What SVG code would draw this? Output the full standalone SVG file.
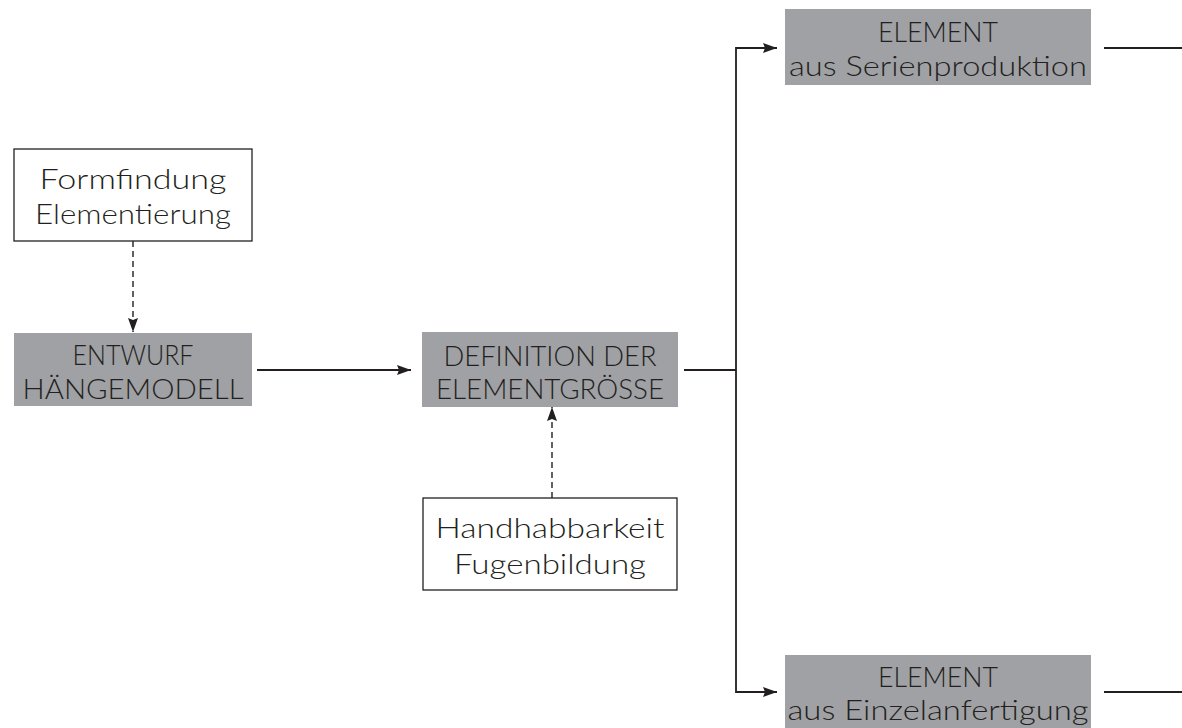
<svg xmlns="http://www.w3.org/2000/svg" width="1182" height="728" viewBox="0 0 1182 728">
  <defs>
    <marker id="arrow" viewBox="0 0 14 10" refX="14" refY="5" markerWidth="14" markerHeight="10" markerUnits="userSpaceOnUse" orient="auto">
      <path d="M0,0 L14,5 L0,10 L2,5 Z" fill="#231f20"/>
    </marker>
    <style>
      .box-grey { fill: #a0a1a4; stroke: none; }
      .box-white { fill: #ffffff; stroke: #231f20; stroke-width: 1.3; }
      .label { font-family: "Lato", "Liberation Sans", "DejaVu Sans", sans-serif; font-weight: 300; font-size: 28px; fill: #231f20; text-anchor: middle; }
      .line { fill: none; stroke: #231f20; stroke-width: 1.8; }
      .dashed { fill: none; stroke: #231f20; stroke-width: 1.4; stroke-dasharray: 6 4; }
    </style>
  </defs>
  <rect width="1182" height="728" fill="#ffffff"/>

  <!-- connectors -->
  <g id="connectors">
    <line class="dashed" x1="133" y1="241" x2="133" y2="332" marker-end="url(#arrow)"/>
    <line class="line" x1="257" y1="370" x2="411" y2="370" marker-end="url(#arrow)"/>
    <line class="dashed" x1="552" y1="498" x2="552" y2="407" marker-end="url(#arrow)"/>
    <line class="line" x1="684" y1="370" x2="736" y2="370"/>
    <polyline class="line" points="770,48 736,48 736,692 770,692"/>
    <line class="line" x1="736" y1="48" x2="777" y2="48" marker-end="url(#arrow)"/>
    <line class="line" x1="736" y1="692" x2="777" y2="692" marker-end="url(#arrow)"/>
    <line class="line" x1="1104" y1="48" x2="1182" y2="48"/>
    <line class="line" x1="1104" y1="692" x2="1182" y2="692"/>
  </g>

  <!-- nodes -->
  <g id="formfindung">
    <rect class="box-white" x="14" y="149" width="238" height="92"/>
    <text class="label" x="133" y="189" textLength="187" lengthAdjust="spacingAndGlyphs">Formfindung</text>
    <text class="label" x="133" y="224" textLength="196" lengthAdjust="spacingAndGlyphs">Elementierung</text>
  </g>

  <g id="entwurf">
    <rect class="box-grey" x="14" y="333" width="238" height="73"/>
    <text class="label" x="133" y="365" textLength="121" lengthAdjust="spacingAndGlyphs">ENTWURF</text>
    <text class="label" x="133" y="399" textLength="221" lengthAdjust="spacingAndGlyphs">HÄNGEMODELL</text>
  </g>

  <g id="definition">
    <rect class="box-grey" x="422" y="332" width="256" height="75"/>
    <text class="label" x="550" y="366" textLength="213" lengthAdjust="spacingAndGlyphs">DEFINITION DER</text>
    <text class="label" x="550" y="399" textLength="228" lengthAdjust="spacingAndGlyphs">ELEMENTGRÖSSE</text>
  </g>

  <g id="handhabbarkeit">
    <rect class="box-white" x="423" y="498" width="254" height="92"/>
    <text class="label" x="550" y="538" textLength="229" lengthAdjust="spacingAndGlyphs">Handhabbarkeit</text>
    <text class="label" x="550" y="574" textLength="192" lengthAdjust="spacingAndGlyphs">Fugenbildung</text>
  </g>

  <g id="serienproduktion">
    <rect class="box-grey" x="785" y="9" width="306" height="76"/>
    <text class="label" x="938" y="42" textLength="120" lengthAdjust="spacingAndGlyphs">ELEMENT</text>
    <text class="label" x="938" y="76" textLength="298" lengthAdjust="spacingAndGlyphs">aus Serienproduktion</text>
  </g>

  <g id="einzelanfertigung">
    <rect class="box-grey" x="785" y="655" width="306" height="73"/>
    <text class="label" x="938" y="687" textLength="120" lengthAdjust="spacingAndGlyphs">ELEMENT</text>
    <text class="label" x="938" y="720" textLength="301" lengthAdjust="spacingAndGlyphs">aus Einzelanfertigung</text>
  </g>
</svg>
